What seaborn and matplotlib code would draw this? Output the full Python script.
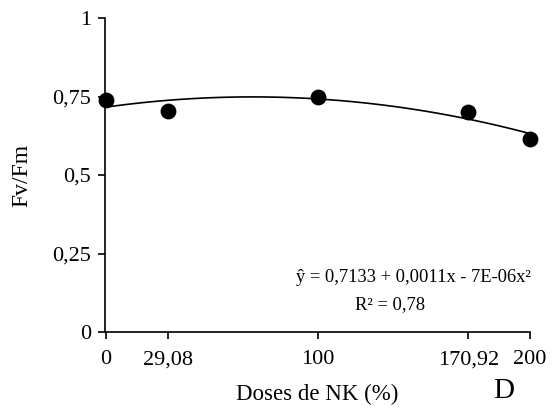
import matplotlib
matplotlib.use("Agg")
import matplotlib.pyplot as plt
import seaborn as sns
import numpy as np
import pandas as pd

doses = [0, 29.08, 100, 170.92, 200]
fvfm = [0.739, 0.704, 0.748, 0.700, 0.615]
xticks = [0, 29.08, 100, 170.92, 200]
xtick_labels = ["0", "29,08", "100", "170,92", "200"]
yticks = [0, 0.25, 0.5, 0.75, 1]
ytick_labels = ["0", "0,25", "0,5", "0,75", "1"]

sns.set_theme(style="white")
plt.rcParams['font.family'] = ['Liberation Serif', 'DejaVu Serif']

df = pd.DataFrame({"dose": doses, "fvfm": fvfm})

fig = plt.figure(figsize=(5.56, 4.08), dpi=100)
ax = fig.add_axes([105/556, 1 - 332/408, (530-105)/556, (332-18)/408])

sns.regplot(data=df, x="dose", y="fvfm", order=2, ci=None, ax=ax,
            scatter_kws=dict(s=130, color="black", alpha=1, zorder=3, clip_on=False, linewidths=0),
            line_kws=dict(color="black", lw=1.2), truncate=True)

ax.set_xlim(-0.5, 200)
ax.set_ylim(0, 1)
ax.set_xticks(xticks)
ax.set_xticklabels(xtick_labels)
ax.set_yticks(yticks)
ax.set_yticklabels(ytick_labels)
for s in ["top", "right"]:
    ax.spines[s].set_visible(False)
for s in ["left", "bottom"]:
    ax.spines[s].set_color("black")
    ax.spines[s].set_linewidth(1.2)
ax.tick_params(axis="both", which="both", direction="out", length=5, width=1.2,
               color="black", labelsize=16, labelcolor="black", bottom=True, left=True)
ax.tick_params(axis="x", pad=8)
ax.tick_params(axis="y", pad=5)
ax.set_xlabel("Doses de NK (%)", fontsize=16.5, color="black", labelpad=11)
ax.set_ylabel("Fv/Fm", fontsize=17, color="black", labelpad=14)

fig.text(413/556, 1 - 277/408, "ŷ = 0,7133 + 0,0011x - 7E-06x²", ha="center", va="center",
         fontsize=13.3, color="black")
fig.text(390/556, 1 - 305/408, "R² = 0,78", ha="center", va="center",
         fontsize=13.3, color="black")
fig.text(504/556, 1 - 391/408, "D", ha="center", va="center", fontsize=21, color="black")

fig.savefig("out.png", dpi=100)
